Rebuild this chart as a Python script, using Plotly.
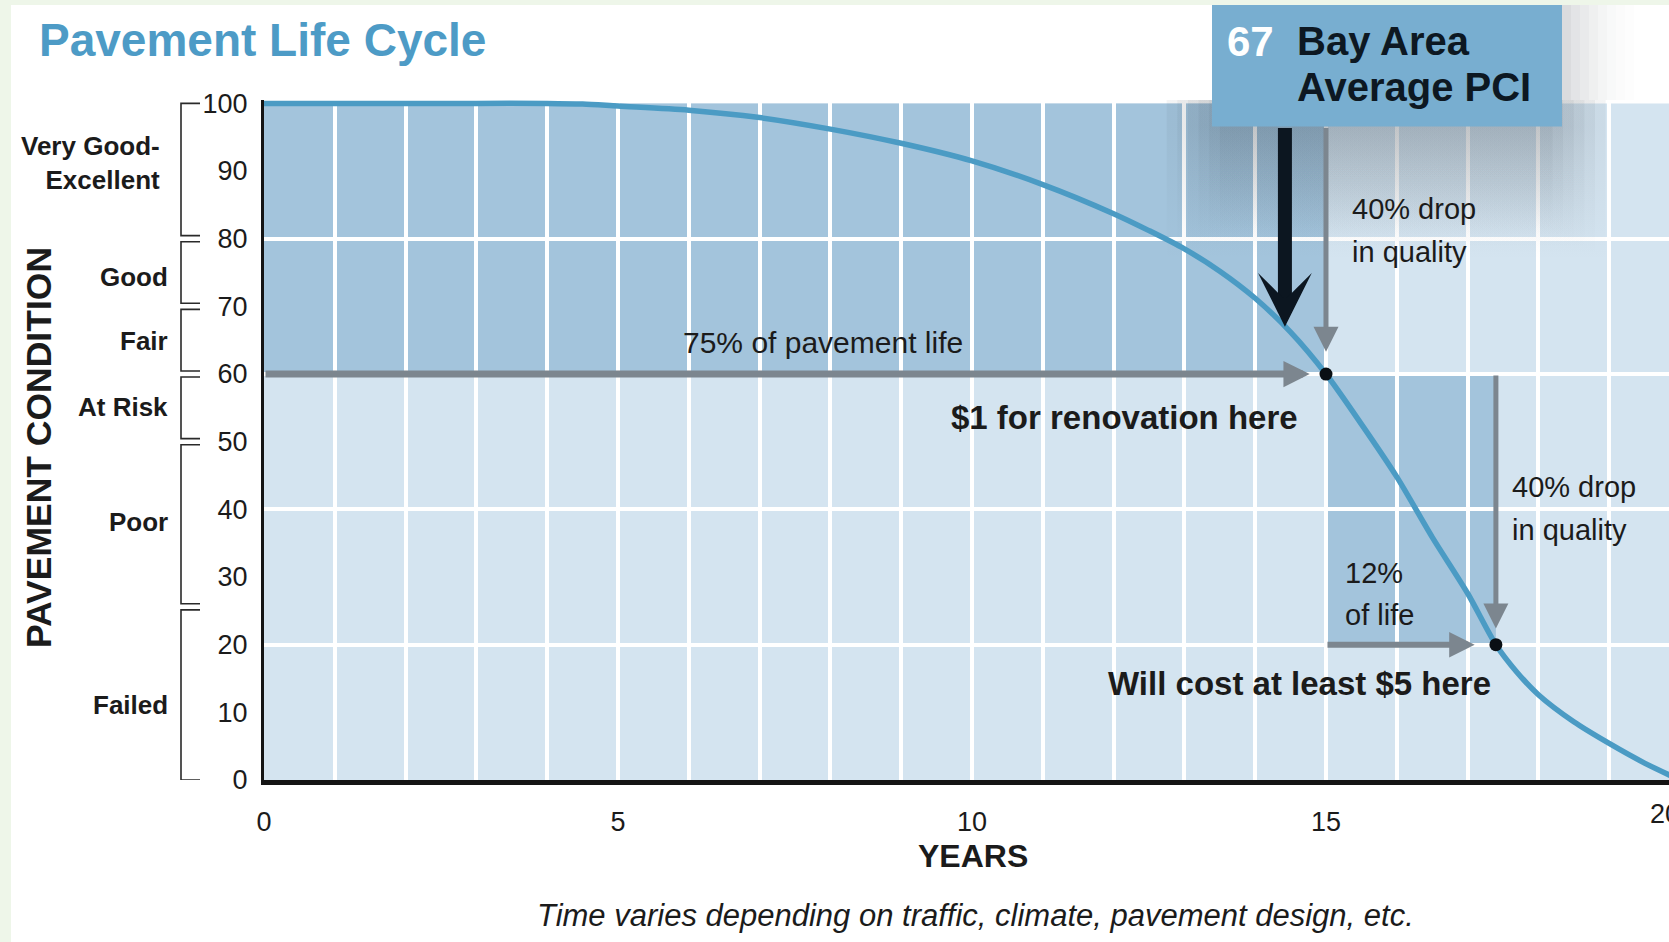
import numpy as np
import plotly.graph_objects as go

# ---------------- data ----------------
years = [0, 1, 2, 3, 4, 4.5, 5, 6, 7, 8, 9, 10, 11, 12, 12.5, 13, 13.5, 14, 14.5, 15,
         15.5, 16, 16.5, 17, 17.4, 17.7, 18, 18.5, 19, 19.5, 20]
pci = [100, 100, 100, 100, 100, 99.9, 99.6, 99.0, 97.9, 96.2, 94.1, 91.5, 88.0,
       83.7, 81.2, 78.5, 75.2, 71.2, 66.2, 60.0, 52.6, 44.8, 35.9, 27.6, 20.0, 15.9,
       12.6, 8.6, 5.4, 2.5, 0.0]
key_years = [15, 17.4]          # renovation point, failure point
key_pci = [60, 20]
bay_area_pci = 67
x_tick_vals = list(range(0, 21))
x_tick_labels = [str(v) if v % 5 == 0 else "" for v in x_tick_vals]
y_tick_vals = list(range(0, 101, 10))
grid_y_vals = [20, 40, 60, 80]
condition_labels = ["Very Good-<br>Excellent", "Good", "Fair", "At Risk", "Poor", "Failed"]
condition_bounds = [(80, 100), (70, 80), (60, 70), (50, 60), (25.6, 50), (0, 25.6)]
condition_label_y = [91.2, 74.3, 64.9, 55.1, 38.1, 11.1]

FONT = "Liberation Sans, Arial, sans-serif"
DARK = "#a3c4dc"
LIGHT = "#d4e4f0"
CURVE = "#4b9bc4"
GRAY = "#7c868f"
TXT = "#1b1b1b"

Y_TOP = 100.5
BOX_BOTTOM = 96.6   # PCI-units where the callout box ends

# year at which the curve crosses the Bay Area average
year_at_avg = float(np.interp(bay_area_pci, pci[::-1], years[::-1]))

fig = go.Figure()

# soft box shadow (stacked gradient fills) under the callout
for i in range(6):
    x0 = 13.5 - 0.15 * i
    x1 = 18.2 + 0.15 * i
    y_end = 81 - 0.9 * i
    fig.add_trace(go.Scatter(
        x=[x0, x1, x1, x0, x0], y=[y_end, y_end, Y_TOP, Y_TOP, y_end], mode="lines",
        line=dict(width=0), fill="toself", hoverinfo="skip",
        fillgradient=dict(type="vertical", start=y_end, stop=BOX_BOTTOM,
                          colorscale=[[0, "rgba(40,50,60,0)"], [1, "rgba(40,50,60,0.055)"]])))

# curve
fig.add_trace(go.Scatter(x=years, y=pci, mode="lines",
                         line=dict(color=CURVE, width=5.5, shape="spline", smoothing=0.8),
                         hoverinfo="skip"))
# key points
fig.add_trace(go.Scatter(x=key_years, y=key_pci, mode="markers",
                         marker=dict(size=13, color="#0a0f14"), hoverinfo="skip"))
# invisible trace for horizontal grid axis
fig.add_trace(go.Scatter(x=[0], y=[0], yaxis="y2", mode="markers",
                         marker=dict(opacity=0), hoverinfo="skip"))

def px_x(X):
    return (X - 264) / 1405.0

def px_y(Y):
    return (780 - Y) / 680.0

shapes = []
# white panel
shapes.append(dict(type="rect", xref="paper", yref="paper", x0=px_x(11), x1=1.05,
                   y0=-0.3, y1=px_y(5), fillcolor="white", line=dict(width=0), layer="below"))
# plot backgrounds
shapes.append(dict(type="rect", xref="x", yref="y", x0=0, x1=20, y0=0, y1=100,
                   fillcolor=LIGHT, line=dict(width=0), layer="below"))
shapes.append(dict(type="rect", xref="x", yref="y", x0=0, x1=key_years[0], y0=key_pci[0], y1=100,
                   fillcolor=DARK, line=dict(width=0), layer="below"))
shapes.append(dict(type="rect", xref="x", yref="y", x0=key_years[0], x1=key_years[1],
                   y0=key_pci[1], y1=key_pci[0], fillcolor=DARK, line=dict(width=0), layer="below"))
# condition brackets
bx0, bx1 = px_x(181), px_x(200)
for lo, hi in condition_bounds:
    lo2 = lo + (0.45 if lo > 0 else 0)
    hi2 = hi - (0.45 if hi < 100 else 0)
    shapes.append(dict(type="path", xref="paper", yref="y",
                       path=f"M {bx1},{hi2} L {bx0},{hi2} L {bx0},{lo2} L {bx1},{lo2}",
                       line=dict(color="#2a2a2a", width=1.6)))
# shadow right of box above plot
sx = 1562
for i, op in enumerate([0.17, 0.13, 0.10, 0.075, 0.05, 0.03, 0.018, 0.008]):
    shapes.append(dict(type="rect", xref="paper", yref="paper", x0=px_x(sx + 9 * i),
                       x1=px_x(sx + 9 * (i + 1)), y0=1.0, y1=px_y(5),
                       fillcolor=f"rgba(40,50,60,{op})", line=dict(width=0), layer="below"))
# callout box
shapes.append(dict(type="rect", xref="paper", yref="paper", x0=px_x(1212), x1=px_x(1562),
                   y0=BOX_BOTTOM / Y_TOP, y1=px_y(5), fillcolor="#78aed0",
                   line=dict(width=0), layer="above"))

ann = []
def arrow(x, y, ax, ay, color, width, head, size):
    ann.append(dict(x=x, y=y, ax=ax, ay=ay, xref="x", yref="y", axref="x", ayref="y",
                    text="", showarrow=True, arrowcolor=color, arrowwidth=width,
                    arrowhead=head, arrowsize=size, standoff=0))

arrow(year_at_avg, bay_area_pci, year_at_avg, BOX_BOTTOM, "#0c1620", 14, 3, 0.64)
arrow(key_years[0], key_pci[0] + 3.3, key_years[0], BOX_BOTTOM, GRAY, 5, 2, 1.0)
arrow(key_years[0] - 0.23, key_pci[0], 0, key_pci[0], GRAY, 7, 2, 0.75)
arrow(key_years[1], key_pci[1] + 2.4, key_years[1], key_pci[0], GRAY, 5, 2, 1.0)
arrow(key_years[1] - 0.3, key_pci[1], key_years[0], key_pci[1], GRAY, 6, 2, 0.85)

def text(t, x, y, size, xref="x", yref="y", xanchor="center", yanchor="middle",
         color=TXT, align="center", angle=0):
    ann.append(dict(text=t, x=x, y=y, xref=xref, yref=yref, xanchor=xanchor,
                    yanchor=yanchor, showarrow=False, align=align, textangle=angle,
                    font=dict(family=FONT, size=size, color=color)))

text("75% of pavement life", 7.9, 64.6, 30)
text("<b>$1 for renovation here</b>", 12.16, 53.6, 33)
text("<b>Will cost at least $5 here</b>", 14.63, 14.2, 33)
text("40% drop", 15.34, 84.4, 29, xanchor="left")
text("in quality", 15.34, 78.0, 29, xanchor="left")
text("12%", 15.24, 30.6, 29, xanchor="left")
text("of life", 15.24, 24.4, 29, xanchor="left")
text("40% drop", 17.6, 43.3, 29, xanchor="left")
text("in quality", 17.6, 36.9, 29, xanchor="left")

# category labels
for lab, yv in zip(condition_labels, condition_label_y):
    xr = px_x(162) if "<br>" in lab else px_x(170)
    text(f"<b>{lab}</b>", xr, yv, 26, xref="paper", xanchor="right", align="right")

text("<b>Pavement Life Cycle</b>", px_x(37), px_y(40), 46, xref="paper", yref="paper",
     xanchor="left", color="#4d9bc6")
text(f"<b>{bay_area_pci}</b>", px_x(1250), px_y(41), 42, xref="paper", yref="paper",
     color="white")
text("<b>Bay Area</b>", px_x(1295), px_y(41), 40, xref="paper", yref="paper",
     xanchor="left", color="#0d1822")
text("<b>Average PCI</b>", px_x(1295), px_y(87), 40, xref="paper", yref="paper",
     xanchor="left", color="#0d1822")
text("<b>PAVEMENT CONDITION</b>", px_x(39), px_y(447), 35.5, xref="paper", yref="paper",
     angle=-90)
text("<b>YEARS</b>", px_x(973), px_y(856), 32, xref="paper", yref="paper")
text("<i>Time varies depending on traffic, climate, pavement design, etc.</i>",
     px_x(975), px_y(915), 31, xref="paper", yref="paper")
text("20", px_x(1665), px_y(814), 27, xref="paper", yref="paper")

fig.update_layout(
    width=1669, height=942,
    margin=dict(l=264, r=0, t=100, b=162, pad=0),
    paper_bgcolor="#eef6e9", plot_bgcolor="rgba(0,0,0,0)",
    showlegend=False, font=dict(family=FONT, color=TXT),
    shapes=shapes, annotations=ann,
    xaxis=dict(range=[0, 19.845], tickmode="array", tickvals=x_tick_vals,
               ticktext=x_tick_labels, showgrid=True, gridcolor="white", gridwidth=4,
               showline=True, linecolor="#141414", linewidth=5, ticks="",
               tickfont=dict(size=27, color=TXT), ticklabelstandoff=14, zeroline=False),
    yaxis=dict(range=[0, Y_TOP], tickmode="array", tickvals=y_tick_vals, showgrid=False,
               showline=True, linecolor="#141414", linewidth=3, ticks="",
               tickfont=dict(size=27, color=TXT), ticklabelstandoff=8, zeroline=False),
    yaxis2=dict(range=[0, Y_TOP], overlaying="y", tickmode="array", tickvals=grid_y_vals,
                showgrid=True, gridcolor="white", gridwidth=4, showticklabels=False,
                showline=False, zeroline=False),
)

fig.write_html("out.html", config={"displayModeBar": False},
               post_script="document.body.style.margin='0';document.body.style.overflow='hidden';")
